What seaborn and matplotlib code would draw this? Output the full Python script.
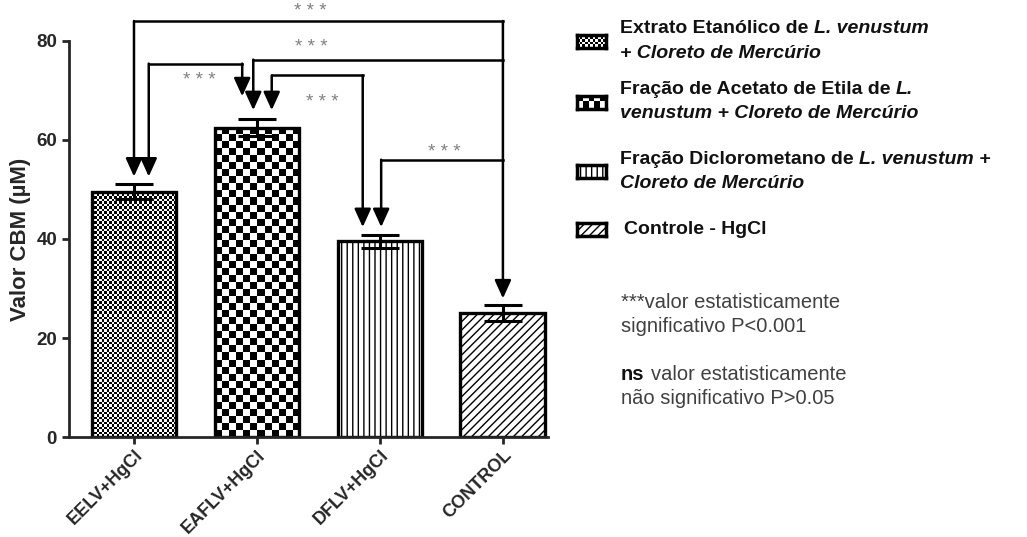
import numpy as np
import matplotlib
matplotlib.use('Agg')
import matplotlib.pyplot as plt
import seaborn as sns
from matplotlib.patches import Rectangle

# data
groups = ['EELV+HgCl', 'EAFLV+HgCl', 'DFLV+HgCl', 'CONTROL']
cbm = [49.5, 62.5, 39.5, 25.0]
sem = [1.5, 1.8, 1.3, 1.6]
stars = '* * *'

# legend lines as runs of (text, style)
legend_lines = [
    [[('Extrato Etanólico de', 'normal'), ('L. venustum', 'italic')],
     [('+ Cloreto de Mercúrio', 'italic')]],
    [[('Fração de Acetato de Etila de', 'normal'), ('L.', 'italic')],
     [('venustum + Cloreto de Mercúrio', 'italic')]],
    [[('Fração Diclorometano de', 'normal'), ('L. venustum +', 'italic')],
     [('Cloreto de Mercúrio', 'italic')]],
    [[('Controle - HgCl', 'normal')]],
]

sns.set_style('ticks')
plt.rcParams['font.family'] = ['Liberation Sans', 'DejaVu Sans']
plt.rcParams['hatch.linewidth'] = 1.0

fig = plt.figure(figsize=(10.27, 5.37), dpi=100)
ax = fig.add_axes([0.067, 0.186, 0.467, 0.738])

sns.barplot(x=groups, y=cbm, color='white', edgecolor='black', linewidth=2.4,
            width=0.69, errorbar=None, ax=ax, zorder=2)
ax.set_xlim(-0.53, 3.37)
ax.set_ylim(0, 80)

bars = ax.patches
bars[2].set_hatch('|||')
bars[3].set_hatch('////')


def checker_fill(bar, cell):
    x0, y0 = bar.get_x(), bar.get_y()
    w, h = bar.get_width(), bar.get_height()
    p0 = ax.transData.transform((x0, y0))
    p1 = ax.transData.transform((x0 + w, y0 + h))
    nx = max(1, int(round((p1[0] - p0[0]) / cell)))
    ny = max(1, int(round((p1[1] - p0[1]) / cell)))
    img = np.indices((ny, nx)).sum(axis=0) % 2
    im = ax.imshow(img, cmap='gray', extent=(x0, x0 + w, y0, y0 + h), origin='lower',
                   interpolation='nearest', aspect='auto', zorder=1.5)
    im.set_clip_path(bar)
    bar.set_facecolor('none')


checker_fill(bars[0], 2.5)
checker_fill(bars[1], 7.0)
ax.set_xlim(-0.53, 3.37)
ax.set_ylim(0, 80)

ax.errorbar(x=range(len(groups)), y=cbm, yerr=sem, fmt='none', ecolor='black',
            elinewidth=2.2, capsize=14, capthick=2.2, zorder=5)

sns.despine(ax=ax)
for s in ['left', 'bottom']:
    ax.spines[s].set_linewidth(2.0)
ax.tick_params(axis='both', width=2.0, length=5, labelsize=13.5)
ax.tick_params(axis='x', pad=2)
ax.set_yticks([0, 20, 40, 60, 80])
ax.set_yticklabels(['0', '20', '40', '60', '80'], fontweight='bold')
ax.set_xticks(range(len(groups)))
ax.set_xticklabels(groups, rotation=45, ha='right', rotation_mode='anchor',
                   fontweight='bold', fontsize=13)
ax.set_ylabel('Valor CBM (µM)', fontweight='bold', fontsize=16, labelpad=4)
ax.set_xlabel('')


# significance brackets
def arrow_down(x, ytop, ytip):
    ax.annotate('', xy=(x, ytip), xytext=(x, ytop), annotation_clip=False,
                arrowprops=dict(arrowstyle='-|>,head_length=1.1,head_width=0.5',
                                color='black', lw=1.8, shrinkA=0, shrinkB=0,
                                mutation_scale=10, clip_on=False))


def hline(x1, x2, y):
    ax.plot([x1, x2], [y, y], color='black', lw=1.8, clip_on=False,
            solid_capstyle='projecting', zorder=6)


star_kw = dict(ha='center', va='center', color='#808080', fontsize=13.5)

hline(0.0, 3.0, 84.0)
arrow_down(0.0, 84.0, 52.6)
arrow_down(3.0, 84.0, 28.0)
ax.text(1.43, 85.9, stars, **star_kw)

hline(0.97, 3.0, 76.2)
arrow_down(0.97, 76.2, 66.0)
ax.text(1.44, 78.6, stars, **star_kw)

hline(0.12, 0.88, 75.4)
arrow_down(0.12, 75.4, 52.6)
arrow_down(0.88, 75.4, 68.8)
ax.text(0.53, 72.0, stars, **star_kw)

hline(1.12, 1.86, 73.0)
arrow_down(1.12, 73.0, 66.0)
arrow_down(1.86, 73.0, 42.4)
ax.text(1.53, 67.6, stars, **star_kw)

hline(2.01, 3.0, 56.0)
arrow_down(2.01, 56.0, 42.4)
ax.text(2.52, 57.5, stars, **star_kw)

# legend drawn by hand
W, H = 1027.0, 537.0
renderer = fig.canvas.get_renderer()


def text_runs(x_px, y_px, runs, size, **kw):
    space = 0.278 * size * 100 / 72
    x = x_px
    for s, style in runs:
        t = fig.text(x / W, 1 - y_px / H, s, ha='left', va='baseline', fontsize=size,
                     fontstyle=style, **kw)
        bb = t.get_window_extent(renderer)
        x = bb.x1 + space


sw_x, sw_w, sw_h = 577, 29, 13
sw_centers = [41, 102, 171, 229]
text_rows = [[33, 58], [94, 118], [164, 188], [234]]
for i, cy in enumerate(sw_centers):
    sax = fig.add_axes([sw_x / W, 1 - (cy + sw_h / 2) / H, sw_w / W, sw_h / H])
    sax.set_xlim(0, 1)
    sax.set_ylim(0, 1)
    sax.set_xticks([])
    sax.set_yticks([])
    for sp in sax.spines.values():
        sp.set_linewidth(2.5)
        sp.set_color('black')
    if i == 0:
        img = np.indices((5, 11)).sum(axis=0) % 2
        sax.imshow(img, cmap='gray', extent=(0, 1, 0, 1), aspect='auto', interpolation='nearest')
    elif i == 1:
        img = np.indices((2, 5)).sum(axis=0) % 2
        sax.imshow(img, cmap='gray', extent=(0, 1, 0, 1), aspect='auto', interpolation='nearest')
    elif i == 2:
        sax.add_patch(Rectangle((0, 0), 1, 1, facecolor='white', edgecolor='black', hatch='|||', lw=0))
    else:
        sax.add_patch(Rectangle((0, 0), 1, 1, facecolor='white', edgecolor='black', hatch='////', lw=0))
    for runs, ty in zip(legend_lines[i], text_rows[i]):
        tx = 624 if i == 3 else 620
        text_runs(tx, ty, runs, 14, fontweight='bold', color='#111111')

note_color = '#404040'
note_kw = dict(ha='left', va='center', fontsize=14.5, color=note_color)
fig.text(621 / W, 1 - 302 / H, '***valor estatisticamente', **note_kw)
fig.text(621 / W, 1 - 326 / H, 'significativo P<0.001', **note_kw)
fig.text(621 / W, 1 - 375 / H, 'ns', ha='left', va='center', fontsize=14.5,
         fontweight='bold', color='#111111')
fig.text(651 / W, 1 - 375 / H, 'valor estatisticamente', **note_kw)
fig.text(621 / W, 1 - 399 / H, 'não significativo P>0.05', **note_kw)

fig.savefig('out.png', dpi=100)
